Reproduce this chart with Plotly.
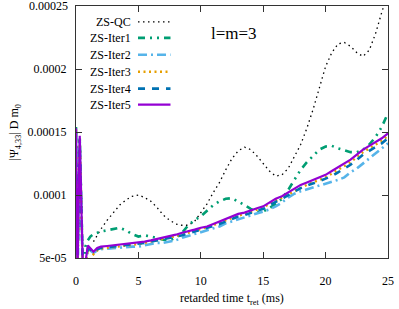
import plotly.graph_objects as go

# ---------------- data (values in units of 1e-5) ----------------
t_iter = [-0.1, 0.0, 0.12, 0.3, 0.55, 0.75, 0.95, 1.15, 1.4, 1.7,
          2.0, 2.5, 3.0, 3.5, 4.0, 4.5, 5.0, 5.5, 6.0, 6.5, 7.0, 7.5, 8.0, 8.5,
          9.0, 9.5, 10.0, 10.5, 11.0, 11.5, 12.0, 12.5, 13.0, 13.5, 14.0, 14.5,
          15.0, 15.5, 16.0, 16.5, 17.0, 17.5, 18.0, 18.5, 19.0, 19.5, 20.0, 20.5,
          21.0, 21.5, 22.0, 22.5, 23.0, 23.5, 24.0, 24.5, 25.0]

iter1 = [3.0, 15.4, 4.0, 14.6, 4.0, 5.9, 6.4, 6.7, 6.9, 7.0,
         7.1, 7.2, 7.3, 7.4, 7.2, 6.9, 6.7, 6.8, 6.7, 6.55, 6.45, 6.4, 6.6, 7.0,
         7.6, 8.0, 8.3, 8.75, 9.2, 9.5, 9.7, 9.75, 9.5, 9.2, 8.9, 8.65,
         8.7, 8.95, 9.3, 9.7, 10.4, 11.2, 12.0, 12.6, 13.1, 13.6, 13.85, 13.9,
         13.7, 13.55, 13.4, 13.4, 13.6, 14.0, 14.6, 15.4, 16.5]

iter2 = [3.0, 15.0, 4.0, 14.2, 4.0, 4.4, 5.6, 5.6, 5.4, 5.6,
         5.7, 5.75, 5.8, 5.8, 5.85, 5.9, 5.9, 6.0, 6.1, 6.2, 6.2, 6.3, 6.4, 6.6,
         6.75, 6.9, 7.0, 7.2, 7.35, 7.5, 7.75, 7.9, 8.1, 8.2, 8.35, 8.5,
         8.7, 8.85, 9.1, 9.4, 9.8, 10.1, 10.3, 10.45, 10.6, 10.75, 10.9, 11.0,
         11.2, 11.4, 11.8, 12.1, 12.5, 12.9, 13.3, 13.7, 14.1]

iter3 = [3.0, 15.2, 4.0, 14.5, 4.0, 4.3, 5.7, 5.6, 5.3, 5.6,
         5.75, 5.8, 5.85, 5.9, 6.0, 6.05, 6.1, 6.2, 6.3, 6.4, 6.5, 6.6, 6.7, 6.85,
         7.0, 7.15, 7.3, 7.4, 7.6, 7.8, 8.0, 8.2, 8.35, 8.5, 8.65, 8.8,
         9.0, 9.3, 9.55, 9.8, 10.05, 10.35, 10.6, 10.8, 11.0, 11.2, 11.4, 11.7,
         12.0, 12.3, 12.6, 13.0, 13.4, 13.7, 14.0, 14.3, 14.7]

iter4 = [3.0, 15.1, 4.0, 14.4, 4.0, 4.4, 5.7, 5.7, 5.4, 5.7,
         5.8, 5.85, 5.9, 5.95, 6.0, 6.1, 6.1, 6.2, 6.3, 6.4, 6.45, 6.55, 6.65, 6.8,
         6.95, 7.1, 7.25, 7.35, 7.55, 7.7, 7.9, 8.1, 8.3, 8.4, 8.6, 8.75,
         8.9, 9.2, 9.45, 9.7, 10.0, 10.3, 10.55, 10.75, 10.9, 11.1, 11.3, 11.5,
         11.8, 12.1, 12.4, 12.8, 13.2, 13.5, 13.8, 14.1, 14.5]

iter5 = [3.0, 15.3, 4.0, 14.7, 4.0, 4.6, 6.0, 5.8, 5.5, 5.8,
         5.9, 5.95, 6.0, 6.05, 6.1, 6.2, 6.2, 6.3, 6.4, 6.5, 6.6, 6.75, 6.85, 7.0,
         7.1, 7.25, 7.4, 7.5, 7.7, 7.9, 8.1, 8.3, 8.5, 8.6, 8.8, 8.95,
         9.1, 9.4, 9.7, 9.9, 10.2, 10.5, 10.8, 11.0, 11.2, 11.4, 11.6, 11.9,
         12.2, 12.5, 12.8, 13.2, 13.6, 13.9, 14.2, 14.5, 14.9]

t_qc = [1.4, 2.0, 2.5, 3.0, 3.5, 4.0, 4.5, 5.0, 5.5, 6.0, 6.5, 7.0, 7.5, 8.0,
        8.5, 9.0, 9.5, 10.0, 10.5, 11.0, 11.5, 12.0, 12.5, 13.0, 13.5, 14.0,
        14.5, 15.0, 15.5, 16.0, 16.5, 17.0, 17.5, 18.0, 18.5, 19.0, 19.5, 20.0,
        20.5, 21.0, 21.5, 22.0, 22.5, 23.0, 23.5, 24.0, 24.5, 25.0]
qc = [6.3, 7.3, 8.0, 8.6, 9.2, 9.6, 9.9, 10.0, 9.8, 9.5, 9.0, 8.4, 8.0, 7.7,
      7.6, 7.6, 7.9, 8.6, 9.3, 10.2, 11.0, 12.0, 12.9, 13.5, 13.8, 13.6,
      13.1, 12.5, 11.9, 11.5, 11.6, 12.1, 13.0, 14.0, 15.3, 16.8, 18.5, 20.2,
      21.3, 22.0, 22.1, 21.8, 21.3, 21.0, 21.5, 22.8, 24.5, 26.0]

x_ticks = [0, 5, 10, 15, 20, 25]
y_ticks = [5e-05, 0.0001, 0.00015, 0.0002, 0.00025]
y_tick_text = ["5e-05", "0.0001", "0.00015", "0.0002", "0.00025"]

SCALE = 1e-5

series = [
    ("ZS-QC", t_qc, qc, "#000000", "1.5px,3.5px", 1.3),
    ("ZS-Iter1", t_iter, iter1, "#009e73", "7px,5px,2px,5px,2px,5px", 2.6),
    ("ZS-Iter2", t_iter, iter2, "#56b4e9", "9px,4px,2px,4px", 2.6),
    ("ZS-Iter3", t_iter, iter3, "#e69f00", "2px,3.5px", 2.4),
    ("ZS-Iter4", t_iter, iter4, "#0072b2", "7px,7px", 2.6),
    ("ZS-Iter5", t_iter, iter5, "#9400d3", "solid", 2.2),
]

FONT = "Liberation Serif, Times New Roman, Times, serif"

fig = go.Figure()
for name, tx, vals, col, dash, w in series:
    fig.add_trace(go.Scatter(
        x=tx, y=[v * SCALE for v in vals], mode="lines", name=name,
        line=dict(color=col, width=w, dash=dash), showlegend=False,
    ))

# manual gnuplot-style legend (text right, sample on the right)
L, R, T, B = 76, 393, 5, 258
W, H = R - L, B - T
def px_x(p): return (p - L) / W
def px_y(p): return (B - p) / H

rows = [21, 37, 54, 71, 88, 104]
for (name, tx, vals, col, dash, w), ry in zip(series, rows):
    fig.add_annotation(x=px_x(134), y=px_y(ry), xref="paper", yref="paper",
                       text=name, showarrow=False, xanchor="right", yanchor="middle",
                       font=dict(family=FONT, size=12, color="black"))
    fig.add_shape(type="line", xref="paper", yref="paper",
                  x0=px_x(139), x1=px_x(172), y0=px_y(ry), y1=px_y(ry),
                  line=dict(color=col, width=w, dash=dash))

fig.add_annotation(x=px_x(237), y=px_y(33), xref="paper", yref="paper",
                   text="l=m=3", showarrow=False, xanchor="center", yanchor="middle",
                   font=dict(family=FONT, size=17, color="black"))

fig.add_annotation(x=px_x(14), y=px_y(131), xref="paper", yref="paper",
                   text="|Ψ<sub>4,33</sub>| D m<sub>0</sub>", showarrow=False,
                   textangle=-90, xanchor="center", yanchor="middle",
                   font=dict(family=FONT, size=12, color="black"))
fig.add_annotation(x=px_x(234), y=px_y(299), xref="paper", yref="paper",
                   text="retarded time t<sub>ret</sub> (ms)", showarrow=False,
                   xanchor="center", yanchor="middle",
                   font=dict(family=FONT, size=12, color="black"))

# top y tick label (plotly drops it at the paper edge), placed on the y axis scale
fig.add_annotation(x=px_x(70), y=y_ticks[-1], xref="paper", yref="y",
                   text=y_tick_text[-1], showarrow=False, xanchor="right",
                   yanchor="middle", font=dict(family=FONT, size=12, color="black"))

axis_common = dict(showline=True, linecolor="#333333", linewidth=1, mirror="ticks",
                   ticks="inside", ticklen=6, tickcolor="#333333", showgrid=False,
                   zeroline=False, tickfont=dict(family=FONT, size=12, color="black"))

fig.update_xaxes(range=[0, 25], tickvals=x_ticks, ticktext=[str(v) for v in x_ticks],
                 ticklabelstandoff=12, **axis_common)
fig.update_yaxes(range=[5e-05, 0.00025], tickvals=y_ticks,
                 ticktext=y_tick_text[:-1] + [""], ticklabelstandoff=6, **axis_common)

fig.update_layout(width=399, height=309, margin=dict(l=L, r=399 - R, t=T, b=309 - B),
                  plot_bgcolor="white", paper_bgcolor="white",
                  font=dict(family=FONT, size=12, color="black"))

fig.write_html("out.html", config={"displayModeBar": False},
               post_script="document.body.style.margin='0';document.body.style.overflow='hidden';")
